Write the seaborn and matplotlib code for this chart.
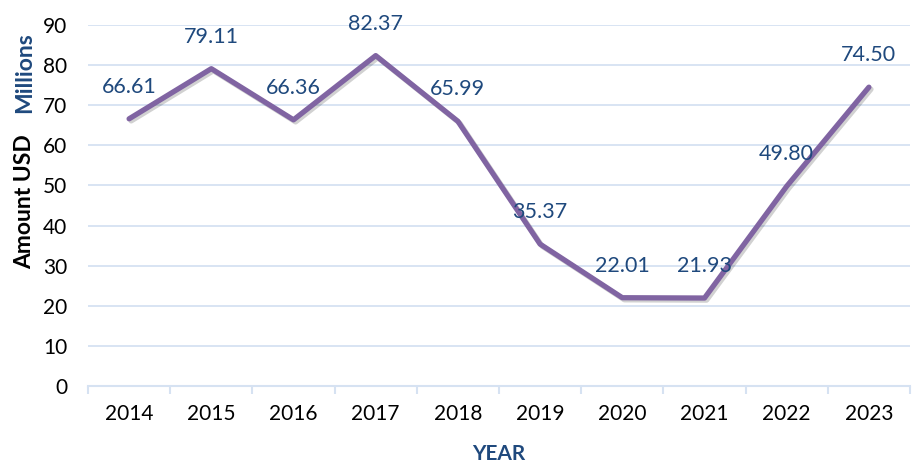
import matplotlib
matplotlib.use("Agg")
import matplotlib.pyplot as plt
import matplotlib.patheffects as pe
from matplotlib.ticker import FixedLocator
import numpy as np
import pandas as pd
import seaborn as sns

# 数据
years = ["2014", "2015", "2016", "2017", "2018", "2019", "2020", "2021", "2022", "2023"]
amounts = [66.61, 79.11, 66.36, 82.37, 65.99, 35.37, 22.01, 21.93, 49.80, 74.50]
y_ticks = [0, 10, 20, 30, 40, 50, 60, 70, 80, 90]

df = pd.DataFrame({"year": years, "amount": amounts})
df["pos"] = np.arange(len(years))

sns.set_theme(style="white")
plt.rcParams["font.family"] = ["Lato", "DejaVu Sans"]

line_color = "#8064A2"
label_color = "#1F497D"
grid_color = "#D6E2F2"

fig = plt.figure(figsize=(9.14, 4.63), dpi=100)
ax = fig.add_axes([88 / 914, 1 - 386 / 463, 822 / 914, 361 / 463])

sns.lineplot(data=df, x="pos", y="amount", ax=ax, color=line_color, linewidth=3.8,
             solid_capstyle="round", solid_joinstyle="round",
             path_effects=[pe.SimpleLineShadow(offset=(1.5, -1.5), alpha=0.2),
                           pe.Normal()])

for p, v in zip(df["pos"], df["amount"]):
    ax.annotate(f"{v:.2f}", (p, v), xytext=(0, 23), textcoords="offset points",
                ha="center", va="center", fontsize=15.5, color=label_color)

ax.set_xlim(-0.5, len(years) - 0.5)
ax.set_ylim(0, 90)
ax.set_xticks(df["pos"])
ax.set_xticklabels(years, fontsize=15, color="black")
ax.xaxis.set_minor_locator(FixedLocator(np.arange(-0.5, len(years), 1)))
ax.tick_params(axis="x", which="major", length=0, pad=13)
ax.tick_params(axis="x", which="minor", length=6, color=grid_color, width=1.5, bottom=True)
ax.set_yticks(y_ticks)
ax.tick_params(axis="y", length=0, labelsize=15, labelcolor="black", pad=15)

ax.grid(axis="y", color=grid_color, linewidth=1.3)
ax.set_axisbelow(True)
for s in ["top", "right", "left"]:
    ax.spines[s].set_visible(False)
ax.spines["bottom"].set_color(grid_color)
ax.spines["bottom"].set_linewidth(1.5)

ax.set_xlabel("YEAR", fontsize=15, fontweight="bold", color=label_color, labelpad=14)
ax.set_ylabel("")
fig.text(25 / 914, 1 - 202 / 463, "Amount USD", rotation=90, ha="center", va="center",
         fontsize=16.5, fontweight="bold", color="black")
fig.text(25 / 914, 1 - 73 / 463, "Millions", rotation=90, ha="center", va="center",
         fontsize=16.5, fontweight="bold", color=label_color)

fig.savefig("out.png", dpi=100)
